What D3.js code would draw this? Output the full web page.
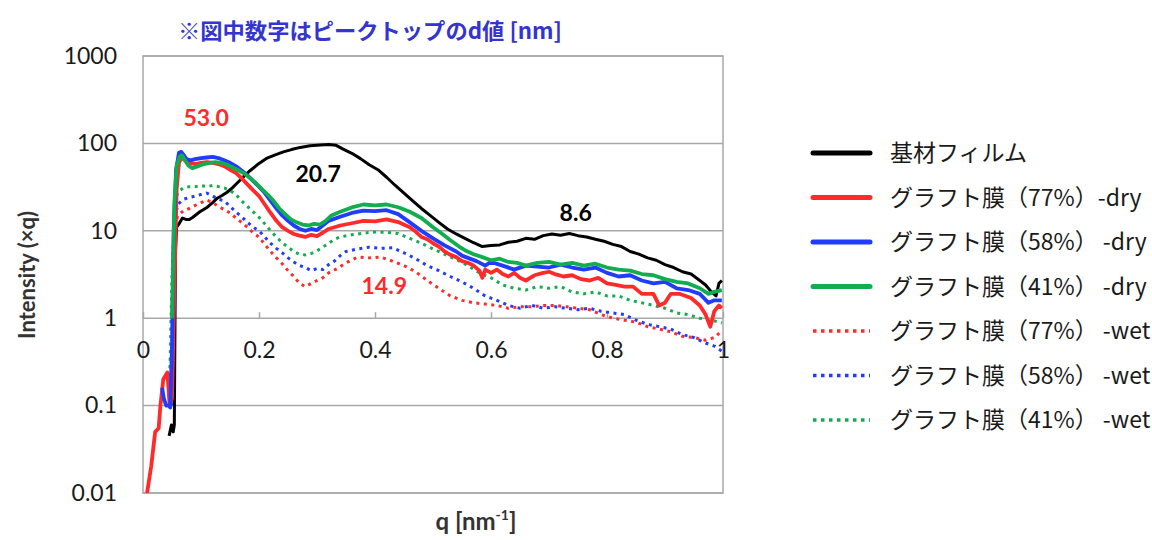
<!DOCTYPE html>
<html>
<head>
<meta charset="utf-8">
<script src="https://cdn.jsdelivr.net/npm/d3@7"></script>
<style>
  body { margin: 0; background: #fff; }
  text { font-family: Lato, "Noto Sans CJK JP", sans-serif; }
  .jp { font-family: "Noto Sans CJK JP", sans-serif; }
</style>
</head>
<body>
<div id="chart"></div>
<script>
// q [nm^-1] and Intensity (x q)
const qBase = [0.045,0.049,0.052,0.054,0.056,0.058,0.062,0.068,0.074,0.080,0.086,0.098,0.111,0.120,0.128,0.137,0.145,0.154,0.162,0.174,0.185,0.200,0.214,0.228,0.242,0.256,0.271,0.288,0.306,0.320,0.333,0.345,0.360,0.375,0.390,0.405,0.420,0.435,0.450,0.465,0.480,0.495,0.510,0.525,0.540,0.555,0.570,0.585,0.600,0.615,0.630,0.645,0.660,0.675,0.690,0.705,0.720,0.735,0.750,0.765,0.780,0.795,0.810,0.825,0.840,0.855,0.870,0.885,0.900,0.915,0.930,0.945,0.960,0.970,0.980,0.988,0.993,0.998];
const iBase = [0.045,0.06,0.05,0.06,6,11,12,14,13.5,13.5,14.3,16.5,18.6,21,23.6,25.5,27.6,31,35,42,49,59,68,74,80,85,90,94,96,97,95,86,77,67,57,50,41,33,27,22,18,15,12.5,10.5,9.2,8.2,7.3,6.6,6.8,6.9,7.4,7.6,8.2,8.0,8.8,9.2,8.9,9.3,8.8,8.5,8.0,7.6,7.0,6.6,5.8,5.4,4.9,4.6,4.1,3.8,3.4,3.2,2.7,2.4,2.0,1.8,2.5,2.7];

const qDry77 = [0.007,0.014,0.021,0.027,0.030,0.035,0.042,0.046,0.050,0.054,0.058,0.062,0.067,0.072,0.080,0.090,0.100,0.110,0.120,0.130,0.140,0.150,0.160,0.170,0.180,0.190,0.200,0.210,0.220,0.230,0.240,0.250,0.260,0.270,0.280,0.290,0.300,0.310,0.320,0.340,0.360,0.380,0.400,0.420,0.440,0.460,0.470,0.480,0.490,0.500,0.510,0.520,0.530,0.540,0.550,0.560,0.570,0.580,0.585,0.590,0.600,0.610,0.620,0.630,0.640,0.650,0.660,0.675,0.690,0.700,0.710,0.725,0.740,0.755,0.770,0.785,0.800,0.815,0.830,0.845,0.860,0.870,0.880,0.890,0.900,0.910,0.925,0.945,0.960,0.970,0.978,0.985,0.993,0.998];
const iDry77 = [0.01,0.02,0.05,0.055,0.1,0.2,0.24,0.1,0.12,2,30,60,70,64,60,58,60,61,60,58,55,50,46,40,34,29,25,20,16,13,11,10,9.2,8.8,8.5,9,8.7,9.5,10.5,11.5,12.2,13,12.8,13.5,12.6,11,9.8,8.5,8.0,7.2,6.6,5.8,5.3,5.0,4.5,4.3,4.0,3.5,2.9,3.6,3.3,3.6,3.2,3.0,3.3,2.9,2.7,3.1,3.3,3.4,3.2,3.0,3.1,2.8,2.7,2.9,2.5,2.4,2.3,2.3,1.9,1.9,1.9,1.4,1.5,1.9,1.9,1.7,1.4,1.1,0.8,1.2,1.4,1.3];

const qDry58 = [0.033,0.036,0.040,0.044,0.047,0.050,0.053,0.057,0.062,0.066,0.070,0.075,0.082,0.090,0.100,0.110,0.120,0.130,0.140,0.150,0.160,0.170,0.180,0.190,0.200,0.210,0.220,0.230,0.240,0.250,0.260,0.270,0.280,0.290,0.300,0.310,0.320,0.340,0.360,0.380,0.400,0.420,0.440,0.460,0.480,0.500,0.520,0.540,0.550,0.560,0.575,0.590,0.600,0.620,0.640,0.660,0.680,0.700,0.720,0.740,0.760,0.780,0.800,0.820,0.840,0.860,0.880,0.900,0.920,0.940,0.960,0.975,0.985,0.998];
const iDry58 = [0.16,0.12,0.1,0.1,0.095,0.5,10,50,78,80,74,66,64,66,68,69,70,68,64,60,55,49,43,37,32,27,22,18,15,13,11.5,10.5,10,10.5,10.2,11.5,13,14.5,16,17,16.8,17.2,15.5,12.5,10,8.2,6.8,5.8,5.2,4.9,4.5,4.0,4.4,4.0,3.6,4.0,3.9,3.8,4.1,3.8,3.6,3.8,3.3,3.0,3.1,2.7,2.5,2.6,2.2,2.1,1.9,1.5,1.6,1.6];

const qDry41 = [0.050,0.054,0.058,0.063,0.067,0.072,0.078,0.085,0.095,0.105,0.115,0.125,0.135,0.145,0.155,0.165,0.175,0.185,0.195,0.205,0.215,0.225,0.235,0.245,0.255,0.265,0.275,0.285,0.295,0.305,0.315,0.325,0.340,0.360,0.380,0.400,0.420,0.440,0.460,0.480,0.500,0.515,0.530,0.545,0.555,0.570,0.585,0.600,0.615,0.630,0.645,0.660,0.680,0.700,0.720,0.740,0.760,0.780,0.800,0.820,0.840,0.860,0.880,0.900,0.920,0.940,0.960,0.975,0.985,0.998];
const iDry41 = [1,20,55,70,73,65,56,52,55,58,60,61,60,57,53,49,45,40,35,30,26,22,18,15.5,13.5,12.5,11.8,11.5,12,11.8,13,15,16.5,18.5,20,19.5,20,18.6,16.5,14,11,9.3,7.8,6.6,6.0,5.4,5.0,4.6,4.8,4.4,4.3,4.0,4.3,4.4,4.1,4.3,4.0,4.2,3.8,3.6,3.5,3.2,3.1,2.8,2.6,2.5,2.2,1.9,2.0,2.1];

const qWet77 = [0.042,0.046,0.050,0.053,0.056,0.060,0.070,0.080,0.090,0.100,0.110,0.120,0.130,0.140,0.150,0.160,0.170,0.180,0.190,0.200,0.210,0.220,0.230,0.240,0.250,0.260,0.270,0.280,0.290,0.300,0.310,0.320,0.335,0.350,0.370,0.390,0.410,0.430,0.450,0.470,0.490,0.510,0.530,0.550,0.570,0.590,0.610,0.630,0.650,0.670,0.690,0.710,0.730,0.750,0.770,0.790,0.810,0.830,0.850,0.870,0.890,0.910,0.930,0.950,0.970,0.985,0.998];
const iWet77 = [0.22,0.2,0.5,5,12,15,17,18,19.5,21,22.5,21,19,17.5,16,14,12.5,11,9.5,8.5,7,5.8,4.9,4.2,3.5,3.0,2.5,2.3,2.5,2.7,2.9,3.3,3.7,4.3,5.0,4.9,5.0,4.5,4.0,3.4,2.7,2.2,1.8,1.6,1.5,1.45,1.4,1.3,1.35,1.35,1.4,1.4,1.35,1.3,1.25,1.1,1.0,0.95,0.9,0.8,0.75,0.7,0.62,0.6,0.56,0.6,0.72];

const qWet58 = [0.050,0.053,0.056,0.060,0.070,0.080,0.090,0.100,0.110,0.120,0.130,0.140,0.150,0.160,0.170,0.180,0.190,0.200,0.210,0.220,0.230,0.240,0.250,0.260,0.270,0.280,0.290,0.300,0.310,0.320,0.330,0.340,0.350,0.370,0.390,0.410,0.430,0.450,0.470,0.490,0.510,0.530,0.550,0.570,0.590,0.610,0.630,0.650,0.670,0.690,0.710,0.730,0.750,0.770,0.790,0.810,0.830,0.850,0.870,0.890,0.910,0.930,0.950,0.970,0.985,0.998];
const iWet58 = [0.1,2,15,20,23,24,25,26,27,25,23,22,19,16.5,14.5,12.5,11,10,8.5,7.2,6.3,5.6,4.9,4.4,4.0,3.8,3.5,3.7,3.6,4.1,4.5,5.2,5.8,6.2,6.5,6.3,6.4,5.6,4.8,4.0,3.5,3.0,2.6,2.2,1.8,1.6,1.4,1.3,1.4,1.3,1.35,1.3,1.25,1.3,1.2,1.15,1.1,0.95,0.85,0.8,0.75,0.65,0.6,0.52,0.48,0.42];

const qWet41 = [0.045,0.050,0.055,0.060,0.070,0.080,0.090,0.100,0.110,0.120,0.130,0.140,0.150,0.160,0.170,0.180,0.190,0.200,0.210,0.220,0.230,0.240,0.250,0.260,0.270,0.280,0.290,0.300,0.310,0.320,0.330,0.340,0.360,0.380,0.400,0.420,0.440,0.460,0.480,0.500,0.520,0.540,0.560,0.580,0.600,0.620,0.640,0.660,0.680,0.700,0.720,0.740,0.760,0.780,0.800,0.820,0.840,0.860,0.880,0.900,0.920,0.940,0.960,0.980,0.998];
const iWet41 = [0.1,3,20,28,31,32,32,33,32,33,32,31,29,26,22,19,16.5,14.3,12,10,8.5,7.3,6.5,5.8,5.4,5.3,5.5,5.9,6.5,7.2,8,8.5,9,9.4,9.7,9.6,9.3,8.2,7.2,6.2,5.4,4.7,4.0,3.3,2.9,2.4,2.2,2.1,2.3,2.2,2.3,2.0,1.9,2.0,1.8,1.8,1.6,1.5,1.4,1.3,1.15,1.1,1.0,0.95,0.88];

const seriesNames = ["基材フィルム", "グラフト膜（77%）-dry", "グラフト膜（58%） -dry", "グラフト膜（41%） -dry",
                     "グラフト膜（77%） -wet", "グラフト膜（58%） -wet", "グラフト膜（41%） -wet"];
const seriesColors = ["#000000", "#ff2b2b", "#1f3cff", "#12ad4f", "#ff2b2b", "#1f3cff", "#12ad4f"];
const seriesDotted = [false, false, false, false, true, true, true];
const seriesQ = [qBase, qDry77, qDry58, qDry41, qWet77, qWet58, qWet41];
const seriesI = [iBase, iDry77, iDry58, iDry41, iWet77, iWet58, iWet41];

const qTicks = [0, 0.2, 0.4, 0.6, 0.8, 1];
const qTickLabels = ["0", "0.2", "0.4", "0.6", "0.8", "1"];
const yTicks = [0.01, 0.1, 1, 10, 100, 1000];
const yTickLabels = ["0.01", "0.1", "1", "10", "100", "1000"];

// peak-top d values [nm]
const peakLabels = ["53.0", "20.7", "14.9", "8.6"];
const peakQ = [0.109, 0.302, 0.416, 0.746];
const peakI = [160, 36, 1.9, 13];
const peakColors = ["#ff2b2b", "#000000", "#ff2b2b", "#000000"];

function createChart() {
    const width = 580, height = 437, margin = {top: 56, left: 143};

    const root = d3.select("#chart")
        .append("svg")
        .attr("width", 1152)
        .attr("height", 540);

    const svg = root.append("g")
        .attr("transform", `translate(${margin.left}, ${margin.top})`);

    const xScale = d3.scaleLinear().domain([0, 1]).range([0, width]);
    const yScale = d3.scaleLog().domain([0.01, 1000]).range([height, 0]);

    // grid lines
    svg.selectAll(".grid")
        .data(yTicks)
        .join("line")
        .attr("x1", 0).attr("x2", width)
        .attr("y1", d => yScale(d)).attr("y2", d => yScale(d))
        .attr("stroke", "#a8a8a8")
        .attr("stroke-width", 1.5);

    svg.append("rect")
        .attr("width", width).attr("height", height)
        .attr("fill", "none")
        .attr("stroke", "#a8a8a8")
        .attr("stroke-width", 1.5);

    // y axis
    const yAxis = svg.append("g")
        .call(d3.axisLeft(yScale).tickValues(yTicks).tickSize(0).tickPadding(26)
            .tickFormat((d, i) => yTickLabels[i]));
    yAxis.select(".domain").remove();
    yAxis.selectAll("text").attr("font-size", 23).attr("fill", "#1a1a1a").attr("font-family", "Lato");

    svg.append("text")
        .attr("transform", "rotate(-90)")
        .attr("x", -(275 - margin.top))
        .attr("y", 27 - margin.left)
        .attr("dy", "0.35em")
        .attr("text-anchor", "middle")
        .attr("font-size", 22)
        .attr("font-weight", "bold")
        .attr("fill", "#333")
        .text("Intensity (×q)");

    // x axis sits on the I = 1 line
    const xAxis = svg.append("g")
        .attr("transform", `translate(0,${yScale(1)})`)
        .call(d3.axisBottom(xScale).tickValues(qTicks).tickSizeInner(-6).tickSizeOuter(0).tickPadding(23)
            .tickFormat((d, i) => qTickLabels[i]));
    xAxis.select(".domain").remove();
    xAxis.selectAll("line").attr("stroke", "#a8a8a8").attr("stroke-width", 1.5);
    xAxis.selectAll("text").attr("font-size", 23).attr("fill", "#1a1a1a").attr("font-family", "Lato");

    const xt = svg.append("text")
        .attr("x", 333)
        .attr("y", 530 - margin.top)
        .attr("text-anchor", "middle")
        .attr("font-size", 24)
        .attr("font-weight", "bold")
        .attr("fill", "#333");
    xt.append("tspan").text("q [nm");
    xt.append("tspan").attr("font-size", 14).attr("dy", -10).text("-1");
    xt.append("tspan").attr("dy", 10).text("]");

    // curves
    svg.append("clipPath").attr("id", "plotClip")
        .append("rect").attr("width", width).attr("height", height);

    const line = d3.line()
        .x(d => xScale(d[0]))
        .y(d => yScale(d[1]));

    const order = [4, 5, 6, 0, 1, 2, 3];
    order.forEach(s => {
        const pts = seriesQ[s].map((q, i) => [q, seriesI[s][i]]);
        svg.append("path")
            .datum(pts)
            .attr("clip-path", "url(#plotClip)")
            .attr("fill", "none")
            .attr("stroke", seriesColors[s])
            .attr("stroke-width", seriesDotted[s] ? 3 : (s === 0 ? 3 : 3.8))
            .attr("stroke-dasharray", seriesDotted[s] ? "3,4.5" : null)
            .attr("stroke-linejoin", "round")
            .attr("d", line);
    });

    // peak labels
    svg.selectAll(".peak")
        .data(peakLabels)
        .join("text")
        .attr("x", (d, i) => xScale(peakQ[i]))
        .attr("y", (d, i) => yScale(peakI[i]))
        .attr("text-anchor", "middle")
        .attr("font-size", 23)
        .attr("font-weight", "bold")
        .attr("fill", (d, i) => peakColors[i])
        .text(d => d);

    // title note
    root.append("text")
        .attr("class", "jp")
        .attr("x", 178)
        .attr("y", 39)
        .attr("font-size", 22)
        .attr("font-weight", "bold")
        .attr("fill", "#3434d0")
        .attr("textLength", 384)
        .attr("lengthAdjust", "spacingAndGlyphs")
        .text("※図中数字はピークトップのd値 [nm]");

    // legend
    const legend = root.append("g").attr("transform", "translate(813,153)");
    seriesNames.forEach((name, i) => {
        const row = legend.append("g").attr("transform", `translate(0,${i * 44.5})`);
        row.append("line")
            .attr("x1", 0).attr("x2", 57)
            .attr("stroke", seriesColors[i])
            .attr("stroke-width", seriesDotted[i] ? 3.5 : 5)
            .attr("stroke-linecap", seriesDotted[i] ? "butt" : "round")
            .attr("stroke-dasharray", seriesDotted[i] ? "3.5,4.5" : null);
        row.append("text")
            .attr("class", "jp")
            .attr("x", 77)
            .attr("dy", "0.36em")
            .attr("font-size", 23)
            .attr("fill", "#1a1a1a")
            .text(name);
    });
}

createChart();
</script>
</body>
</html>
